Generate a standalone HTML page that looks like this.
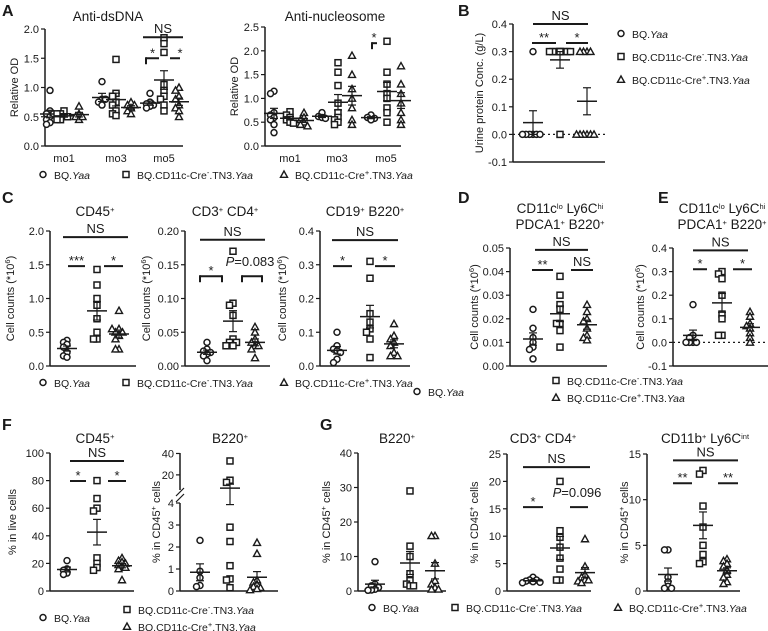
<!DOCTYPE html>
<html><head><meta charset="utf-8">
<style>
html,body{margin:0;padding:0;background:#fff;}
svg{display:block;font-family:"Liberation Sans",Arial,sans-serif;}
</style></head>
<body>
<svg id="fig" width="768" height="631" viewBox="0 0 768 631" xmlns="http://www.w3.org/2000/svg"></svg>
<script>
// ---------------- DATA ----------------
const groupNames = ["BQ.Yaa","BQ.CD11c-Cre-.TN3.Yaa","BQ.CD11c-Cre+.TN3.Yaa"];
const monthLabels = ["mo1","mo3","mo5"];
// A: anti-dsDNA
const dsMo1BQ=[0.95,0.6,0.55,0.5,0.45,0.4,0.37,0.55];
const dsMo1Neg=[0.6,0.55,0.5,0.45,0.5,0.55,0.45];
const dsMo1Pos=[0.68,0.55,0.5,0.45,0.5];
const dsMo3BQ=[1.1,0.8,0.75,0.7,0.8];
const dsMo3Neg=[1.48,0.9,0.85,0.75,0.7,0.6,0.55,0.52];
const dsMo3Pos=[0.75,0.7,0.65,0.6,0.55,0.7];
const dsMo5BQ=[0.9,0.75,0.72,0.7,0.68,0.65];
const dsMo5Neg=[1.85,1.75,1.6,1.05,0.95,0.85,0.8,0.7,0.6];
const dsMo5Pos=[1.0,0.95,0.85,0.8,0.7,0.65,0.6,0.5];
// A: anti-nucleosome
const nuMo1BQ=[1.15,1.1,0.7,0.65,0.6,0.55,0.45,0.28];
const nuMo1Neg=[0.72,0.65,0.6,0.55,0.5,0.48];
const nuMo1Pos=[0.7,0.6,0.55,0.5,0.45,0.42];
const nuMo3BQ=[0.7,0.62,0.6,0.58];
const nuMo3Neg=[1.75,1.55,1.27,0.9,0.7,0.6,0.55,0.5,0.45];
const nuMo3Pos=[1.9,1.5,1.2,1.0,0.8,0.55,0.45];
const nuMo5BQ=[0.65,0.6,0.58,0.55];
const nuMo5Neg=[2.2,1.55,1.3,1.1,1.0,0.8,0.7,0.5];
const nuMo5Pos=[1.68,1.3,1.1,0.9,0.7,0.55,0.45];
// B: urine protein
const urineBQ=[0.3,0,0,0,0,0,0];
const urineNeg=[0.3,0.3,0.3,0.3,0.3,0.3,0.3,0.3,0.3,0];
const urinePos=[0.3,0.3,0.3,0.3,0,0,0,0,0,0];
// C
const cd45BQ=[0.38,0.35,0.32,0.28,0.2,0.15,0.13];
const cd45Neg=[1.43,1.2,1.0,0.9,0.7,0.5,0.4,0.4];
const cd45Pos=[0.82,0.55,0.5,0.45,0.5,0.4,0.25,0.25,0.55];
const cd4BQ=[0.035,0.025,0.022,0.02,0.018,0.015,0.008];
const cd4Neg=[0.17,0.093,0.09,0.075,0.04,0.035,0.035,0.03,0.03];
const cd4Pos=[0.058,0.05,0.04,0.035,0.03,0.03,0.025,0.012];
const cd19BQ=[0.1,0.06,0.05,0.045,0.04,0.02,0.01];
const cd19Neg=[0.31,0.26,0.155,0.13,0.11,0.1,0.08,0.025];
const cd19Pos=[0.125,0.09,0.08,0.07,0.06,0.04,0.03,0.03];
// D, E
const pdcDBQ=[0.024,0.016,0.012,0.01,0.008,0.007,0.003];
const pdcDNeg=[0.038,0.03,0.026,0.024,0.018,0.018,0.015,0.008];
const pdcDPos=[0.026,0.023,0.02,0.019,0.016,0.013,0.012,0.011];
const pdcEBQ=[0.16,0.03,0.02,0.0,0.0,0.0,0.0];
const pdcENeg=[0.3,0.29,0.27,0.2,0.12,0.1,0.03,0.03];
const pdcEPos=[0.13,0.11,0.08,0.07,0.06,0.04,0.02,0.0];
// F
const fCd45BQ=[22,16,15,13,12];
const fCd45Neg=[80,67,60,58,24,20,17,15];
const fCd45Pos=[24,22,21,20,19,18,17,16,8];
const fB220BQ=[2.3,0.9,0.6,0.25,0.2];
const fB220Neg=[33,15,13,2.9,2.25,1.15,0.55,0.5,0.15];
const fB220Pos=[2.2,1.7,0.5,0.4,0.3,0.2,0.15,0.1,0.05];
// G
const gB220BQ=[8.5,2,1.5,1,0.5,0.3,0.2];
const gB220Neg=[29,13,10,5,3,2,1.5,1.5];
const gB220Pos=[16,16,8,3,2,1,0.5,0.5];
const gCd4BQ=[2.5,2,2,1.8,1.7,1.6,1.5];
const gCd4Neg=[20,11,9.8,8,6,4,2,2];
const gCd4Pos=[9.5,4.5,3,2.5,2,2,1.8,1.5];
const gLy6BQ=[4.5,4.5,1.5,1,0.5,0.3,0.3];
const gLy6Neg=[13.2,12.8,9.3,7,5,4,3.2,3];
const gLy6Pos=[3.5,3.3,3,2.7,2.3,1.8,1.5,1,0.8];
// tick values
const ticksA1=[0,0.5,1,1.5,2];
const ticksA2=[0,0.5,1,1.5,2,2.5];
const ticksB=[-0.1,0,0.1,0.2,0.3,0.4];
const ticksC1=[0,0.5,1,1.5,2];
const ticksC2=[0,0.05,0.1,0.15,0.2];
const ticksC3=[0,0.1,0.2,0.3,0.4];
const ticksD=[0,0.01,0.02,0.03,0.04,0.05];
const ticksE=[-0.1,0,0.1,0.2,0.3,0.4];
const ticksF1=[0,20,40,60,80,100];
const ticksF2=[0,1,2,3,4,20,40];
const ticksG1=[0,10,20,30,40];
const ticksG2=[0,5,10,15,20,25];
const ticksG3=[0,5,10,15];

// ---------------- HELPERS ----------------
const NS="http://www.w3.org/2000/svg";
const svg=document.getElementById('fig');
const INK="#1a1a1a";
function mk(tag,attrs,parent){const e=document.createElementNS(NS,tag);for(const k in attrs)e.setAttribute(k,attrs[k]);(parent||svg).appendChild(e);return e;}
function line(x1,y1,x2,y2,p,w,dash){const l=mk('line',{x1,y1,x2,y2,stroke:INK,'stroke-width':w||1.5},p);if(dash)l.setAttribute('stroke-dasharray',dash);return l;}
function txt(x,y,html,size,anchor,p,weight){const t=mk('text',{x,y,'font-size':size||11,'text-anchor':anchor||'middle',fill:INK},p);if(weight)t.setAttribute('font-weight',weight);t.innerHTML=html;return t;}
const SUP=(s)=>`<tspan baseline-shift="super" font-size="7.5">${s}</tspan>`;
function marker(shape,x,y,p){
  let m;
  if(shape===0)m=mk('circle',{cx:x,cy:y,r:3,fill:'#fff',stroke:INK,'stroke-width':1.5},p);
  else if(shape===1)m=mk('rect',{x:x-3,y:y-3,width:6,height:6,fill:'#fff',stroke:INK,'stroke-width':1.5},p);
  else m=mk('polygon',{points:`${x},${y-3.5} ${x+3.5},${y+2.8} ${x-3.5},${y+2.8}`,fill:'#fff',stroke:INK,'stroke-width':1.4},p);
  return m;
}
function meanSem(v){const n=v.length;const m=v.reduce((a,b)=>a+b,0)/n;const sd=Math.sqrt(v.reduce((a,b)=>a+(b-m)*(b-m),0)/(n-1));return [m,sd/Math.sqrt(n)];}

function panel(cfg){
  const g=mk('g',{});
  
  
  const Y=cfg.yf||(v=>cfg.bot-(v-cfg.min)/(cfg.max-cfg.min)*(cfg.bot-cfg.top));
  const ax=mk('g',{},g);
  
  
  if(cfg.segments){cfg.segments.forEach(s=>line(cfg.ax,s[0],cfg.ax,s[1],ax));
    line(cfg.ax-4,cfg.brk+4,cfg.ax+4,cfg.brk-4,ax,1.2);line(cfg.ax-4,cfg.brk+10,cfg.ax+4,cfg.brk+2,ax,1.2);}
  else line(cfg.ax,Y(cfg.ticks[cfg.ticks.length-1]),cfg.ax,Y(cfg.ticks[0]),ax);
  cfg.ticks.forEach(t=>{const y=Y(t);line(cfg.ax-4,y,cfg.ax,y,ax,1.2);
    const tl=txt(cfg.ax-6,y+4,t.toFixed(cfg.dec),11,'end',ax);
    });
  const xa=mk('g',{},g);
  
  
  line(cfg.ax,cfg.bot,cfg.xEnd,cfg.bot,xa);
  if(cfg.zero)line(cfg.ax,Y(0),cfg.xEnd,Y(0),g,1.2,'2,3');
  if(cfg.xlabels)cfg.xlabels.forEach(l=>{const t=txt(l[0],cfg.bot+16,l[1],11,'middle',xa);});
  const yt=txt(0,0,cfg.ytitle,11,'middle',g);
  yt.setAttribute('transform',`translate(${cfg.ytx},${(cfg.top+cfg.bot)/2}) rotate(-90)`);
  
  (cfg.titles||[]).forEach(tt=>{const t=txt(tt[0],tt[1],tt[2],13.5,'middle',g);});
  cfg.groups.forEach((gr)=>{
    const sg=mk('g',{},g);
    
    
    const placed=[];
    gr.vals.forEach(v=>{const y=Y(v);let x=gr.x;const offs=[0,-3.5,3.5,-7,7,-10.5,10.5];
      for(const o of offs){if(!placed.some(p=>Math.abs(p[0]-(gr.x+o))<3.4&&Math.abs(p[1]-y)<4)){x=gr.x+o;break;}}
      placed.push([x,y]);const m=marker(gr.shape,x,y,sg);
      });
    const [m,se]=meanSem(gr.vals);
    const ml=line(gr.x-10,Y(m),gr.x+10,Y(m),sg,1.5);
    line(gr.x,Y(m-se),gr.x,Y(m+se),sg,1.2);line(gr.x-4,Y(m+se),gr.x+4,Y(m+se),sg,1.2);line(gr.x-4,Y(m-se),gr.x+4,Y(m-se),sg,1.2);
  });
  (cfg.sig||[]).forEach(s=>{const y=Y(s[2]);const b=mk('g',{},g);
    
    line(s[0],y,s[1],y,b,2);
    if(s[4]===1){line(s[0],y-1,s[0],y+6,b,2);line(s[1],y-1,s[1],y+6,b,2);}
    if(s[4]===2){line(s[0],y-1,s[0],y+6,b,2);}
    const isStar=s[3].indexOf('*')>=0;
    txt(s[5]!==undefined?s[5]:(s[0]+s[1])/2,isStar?y-1:y-4,s[3],13,'middle',b);});
  return g;
}
function legend(items,name){const g=mk('g',{});
  items.forEach(it=>{const e=mk('g',{},g);
    marker(it[0],it[1],it[2]-0.5,e);txt(it[1]+11,it[2]+4,it[3],10.5,'start',e);});}
const L0='BQ.<tspan font-style="italic">Yaa</tspan>';
const L1='BQ.CD11c-Cre'+SUP('-')+'.TN3.<tspan font-style="italic">Yaa</tspan>';
const L2='BQ.CD11c-Cre'+SUP('+')+'.TN3.<tspan font-style="italic">Yaa</tspan>';
function letter(x,y,s){const t=txt(x,y,s,16,'start',svg,'bold');}
function trio(c,a,b){return [{x:c+a[0],vals:b[0],shape:0},{x:c+a[1],vals:b[1],shape:1},{x:c+a[2],vals:b[2],shape:2}];}

// ---------------- PANELS ----------------
letter(2,16,'A');letter(458,16,'B');letter(2,203,'C');letter(458,203,'D');letter(658,203,'E');letter(2,430,'F');letter(320,430,'G');

const offA=[-14,0,15];
panel({name:'panel-a-dsdna',ax:45,top:29,bot:146,xEnd:183,min:0,max:2,ticks:ticksA1,dec:1,ytx:18,ytitle:'Relative OD',
  titles:[[108,21,'Anti-dsDNA']],xlabels:[[64,monthLabels[0]],[116,monthLabels[1]],[164,monthLabels[2]]],
  groups:[...trio(64,offA,[dsMo1BQ,dsMo1Neg,dsMo1Pos]),...trio(116,offA,[dsMo3BQ,dsMo3Neg,dsMo3Pos]),...trio(164,offA,[dsMo5BQ,dsMo5Neg,dsMo5Pos])],
  sig:[[143,183,1.86,'NS',0],[146,159,1.5,'*',2],[170,180,1.5,'*',0,180]]});
const offA2=[-16,0,14];
panel({name:'panel-a-nucleosome',ax:265,top:27,bot:146,xEnd:401,min:0,max:2.5,ticks:ticksA2,dec:1,ytx:238,ytitle:'Relative OD',
  titles:[[335,21,'Anti-nucleosome']],xlabels:[[290,monthLabels[0]],[337,monthLabels[1]],[386,monthLabels[2]]],
  groups:[...trio(290,offA2,[nuMo1BQ,nuMo1Neg,nuMo1Pos]),...trio(338,offA2,[nuMo3BQ,nuMo3Neg,nuMo3Pos]),...trio(387,offA2,[nuMo5BQ,nuMo5Neg,nuMo5Pos])],
  sig:[[372,377,2.16,'*',2,374]]});
legend([[0,43,175,L0],[1,126,175,L1],[2,284,175,L2]],'legend-a');

panel({name:'panel-b-urine-protein',ax:513,top:24,bot:162,xEnd:605,min:-0.1,max:0.4,ticks:ticksB,dec:1,ytx:483,zero:true,
  ytitle:'Urine protein Conc. (g/L)',
  groups:[{x:533,vals:urineBQ,shape:0},{x:560,vals:urineNeg,shape:1},{x:587,vals:urinePos,shape:2}],
  sig:[[533,588,0.4,'NS',0],[532,556,0.331,'**',0],[566,588,0.331,'*',0]]});
legend([[0,621,34,L0],[1,621,57,L1],[2,621,80,L2]],'legend-b');

const cT=231,cB=366;
panel({name:'panel-c-cd45',ax:50,top:cT,bot:cB,xEnd:136,min:0,max:2,ticks:ticksC1,dec:1,ytx:14,ytitle:'Cell counts (*10'+SUP('6')+')',
  titles:[[95,216,'CD45'+SUP('+')]],
  groups:[{x:67,vals:cd45BQ,shape:0},{x:97,vals:cd45Neg,shape:1},{x:119,vals:cd45Pos,shape:2}],
  sig:[[63,128,1.91,'NS',0],[68,85,1.48,'***',0],[104,123,1.48,'*',0]]});
panel({name:'panel-c-cd3-cd4',ax:185,top:cT,bot:cB,xEnd:270,min:0,max:0.2,ticks:ticksC2,dec:2,ytx:150,ytitle:'Cell counts (*10'+SUP('6')+')',
  titles:[[225,216,'CD3'+SUP('+')+' CD4'+SUP('+')]],
  groups:[{x:207,vals:cd4BQ,shape:0},{x:233,vals:cd4Neg,shape:1},{x:255,vals:cd4Pos,shape:2}],
  sig:[[200,265,0.187,'NS',0],[200,222,0.133,'*',1],[242,262,0.133,'',1]]});
txt(250,266,'<tspan font-style="italic">P</tspan>=0.083',13,'middle');
panel({name:'panel-c-cd19-b220',ax:320,top:cT,bot:cB,xEnd:410,min:0,max:0.4,ticks:ticksC3,dec:1,ytx:286,ytitle:'Cell counts (*10'+SUP('6')+')',
  titles:[[365,216,'CD19'+SUP('+')+' B220'+SUP('+')]],
  groups:[{x:337,vals:cd19BQ,shape:0},{x:370,vals:cd19Neg,shape:1},{x:394,vals:cd19Pos,shape:2}],
  sig:[[332,398,0.373,'NS',0],[333,352,0.296,'*',0],[375,395,0.296,'*',0]]});
legend([[0,43,383,L0],[1,126,383,L1],[2,284,383,L2]],'legend-c');

panel({name:'panel-d-pdc',ax:510,top:248,bot:366,xEnd:607,min:0,max:0.05,ticks:ticksD,dec:2,ytx:478,ytitle:'Cell counts (*10'+SUP('6')+')',
  titles:[[560,213,'CD11c'+SUP('lo')+' Ly6C'+SUP('hi')],[560,229,'PDCA1'+SUP('+')+' B220'+SUP('+')]],
  groups:[{x:533,vals:pdcDBQ,shape:0},{x:560,vals:pdcDNeg,shape:1},{x:587,vals:pdcDPos,shape:2}],
  sig:[[535,588,0.0492,'NS',0],[532,553,0.0407,'**',0],[571,593,0.0407,'NS',0]]});
panel({name:'panel-e-pdc',ax:673,top:248,bot:366,xEnd:768,min:-0.1,max:0.4,ticks:ticksE,dec:1,ytx:644,zero:true,ytitle:'Cell counts (*10'+SUP('6')+')',
  titles:[[722,213,'CD11c'+SUP('lo')+' Ly6C'+SUP('hi')],[722,229,'PDCA1'+SUP('+')+' B220'+SUP('+')]],
  groups:[{x:693,vals:pdcEBQ,shape:0},{x:722,vals:pdcENeg,shape:1},{x:750,vals:pdcEPos,shape:2}],
  sig:[[693,748,0.39,'NS',0],[693,707,0.31,'*',0],[733,752,0.31,'*',0]]});
legend([[0,417,392,L0],[1,556,381,L1],[2,556,398,L2]],'legend-de');

panel({name:'panel-f-cd45',ax:50,top:453,bot:591,xEnd:134,min:0,max:100,ticks:ticksF1,dec:0,ytx:16,ytitle:'% in live cells',
  titles:[[95,443,'CD45'+SUP('+')]],
  groups:[{x:67,vals:fCd45BQ,shape:0},{x:97,vals:fCd45Neg,shape:1},{x:122,vals:fCd45Pos,shape:2}],
  sig:[[70,124,94.2,'NS',0],[70,86,79.7,'*',0],[108,126,79.7,'*',0]]});
panel({name:'panel-f-b220',ax:180,top:453,bot:591,xEnd:278,ticks:ticksF2,dec:0,ytx:160,ytitle:'% in CD45'+SUP('+')+' cells',
  yf:v=>v<=4?591-v*22:492-(v-4)*1.07,segments:[[453,490],[503,591]],brk:492,
  titles:[[230,443,'B220'+SUP('+')]],
  groups:[{x:200,vals:fB220BQ,shape:0},{x:230,vals:fB220Neg,shape:1},{x:257,vals:fB220Pos,shape:2}]});
legend([[0,43,618,L0],[1,127,610,L1],[2,127,627,L2]],'legend-f');

panel({name:'panel-g-b220',ax:358,top:453,bot:591,xEnd:446,min:0,max:40,ticks:ticksG1,dec:0,ytx:330,ytitle:'% in CD45'+SUP('+')+' cells',
  titles:[[397,443,'B220'+SUP('+')]],
  groups:[{x:375,vals:gB220BQ,shape:0},{x:410,vals:gB220Neg,shape:1},{x:435,vals:gB220Pos,shape:2}]});
panel({name:'panel-g-cd3-cd4',ax:507,top:454,bot:591,xEnd:591,min:0,max:25,ticks:ticksG2,dec:0,ytx:478,ytitle:'% in CD45'+SUP('+')+' cells',
  titles:[[543,443,'CD3'+SUP('+')+' CD4'+SUP('+')]],
  groups:[{x:533,vals:gCd4BQ,shape:0},{x:560,vals:gCd4Neg,shape:1},{x:585,vals:gCd4Pos,shape:2}],
  sig:[[523,590,22.6,'NS',0],[523,543,15.3,'*',0],[570,588,15.3,'',0]]});
txt(577,497,'<tspan font-style="italic">P</tspan>=0.096',13,'middle');
panel({name:'panel-g-cd11b-ly6c',ax:647,top:454,bot:591,xEnd:740,min:0,max:15,ticks:ticksG3,dec:0,ytx:628,ytitle:'% in CD45'+SUP('+')+' cells',
  titles:[[705,443,'CD11b'+SUP('+')+' Ly6C'+SUP('int')]],
  groups:[{x:668,vals:gLy6BQ,shape:0},{x:703,vals:gLy6Neg,shape:1},{x:727,vals:gLy6Pos,shape:2}],
  sig:[[673,738,14.3,'NS',0],[673,692,11.8,'**',0],[718,738,11.8,'**',0]]});
legend([[0,372,608,L0],[1,455,608,L1],[2,618,608,L2]],'legend-g');
</script>
</body></html>
